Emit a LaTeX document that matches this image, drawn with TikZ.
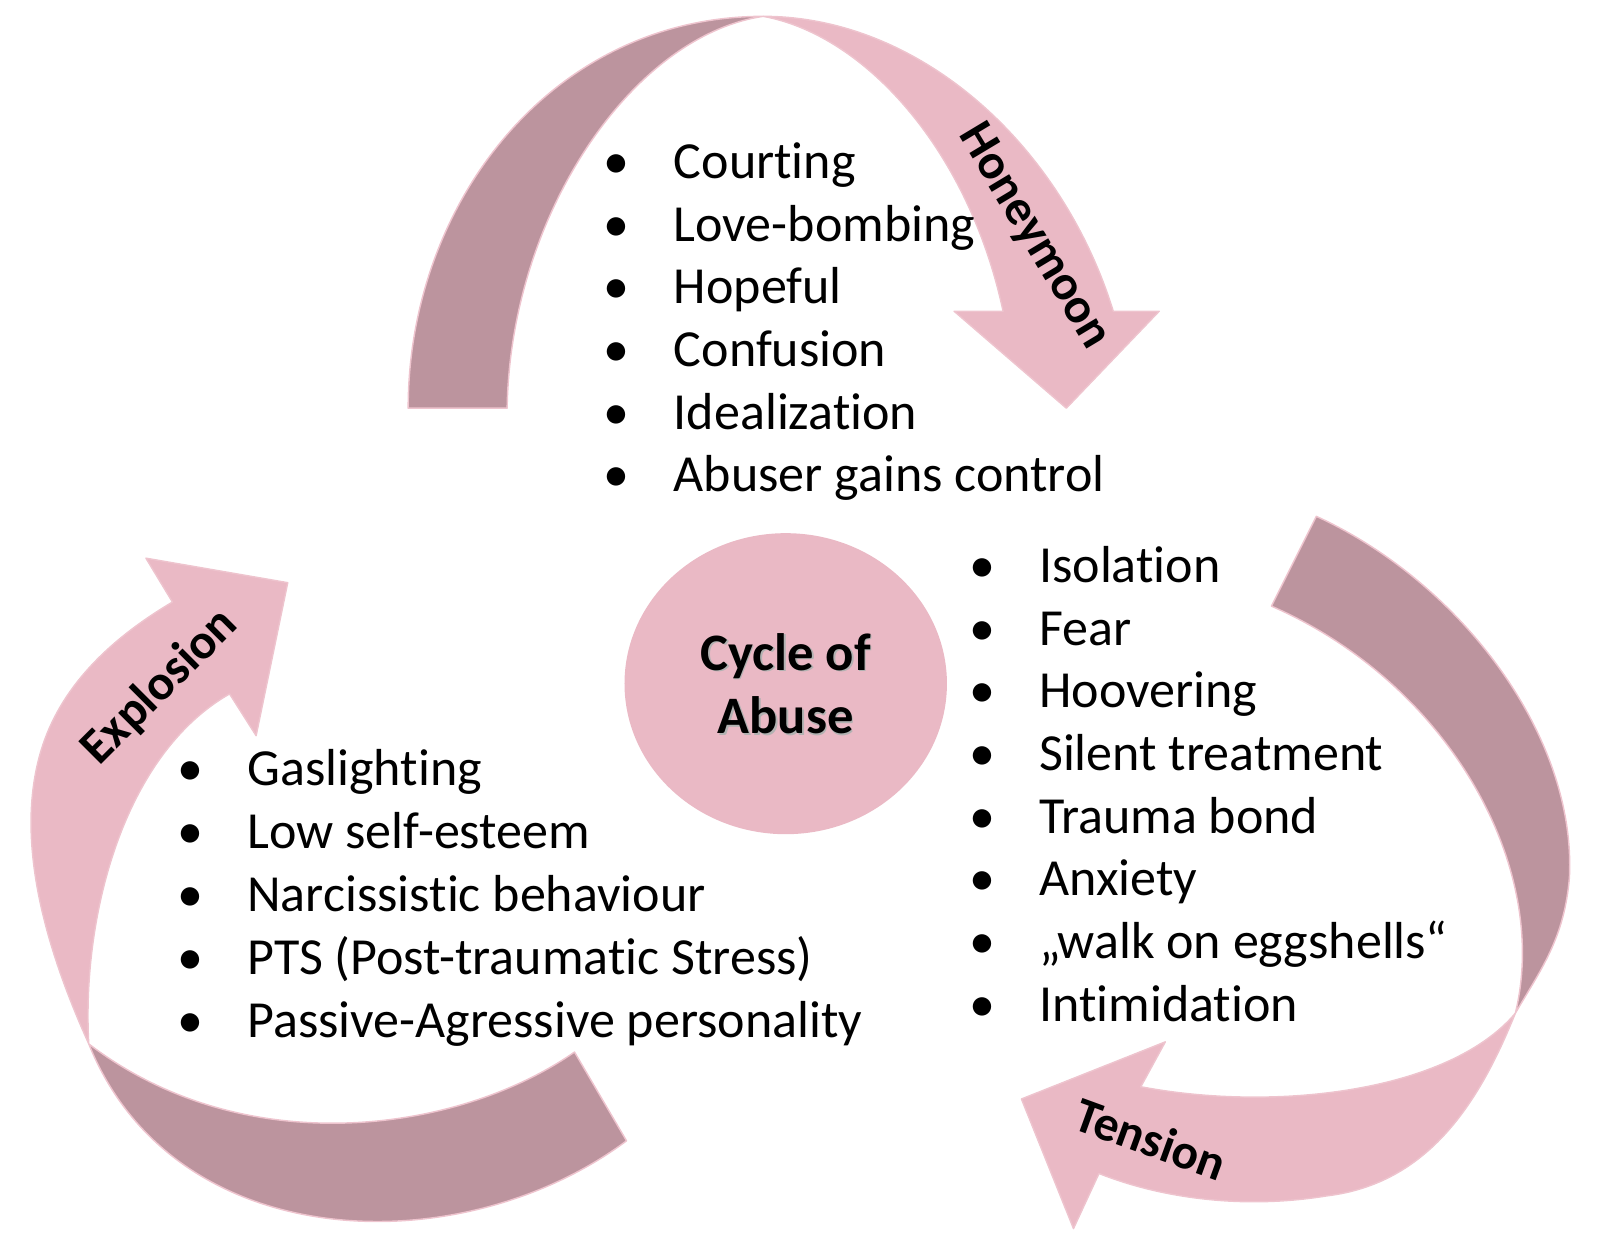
\documentclass[tikz,border=0pt]{standalone}
\usepackage{fontspec}
\setmainfont{Carlito}[Ligatures={NoCommon,NoContextual}]
\usepackage{tikz}
\usetikzlibrary{shapes.geometric}
\definecolor{pinklite}{RGB}{234,185,197}
\definecolor{pinkdark}{RGB}{188,148,158}
\definecolor{pinkedge}{RGB}{238,196,206}

\begin{document}
\begin{tikzpicture}[x=0.5pt, y=-0.5pt,
    lite/.style={fill=pinklite, draw=pinkedge, line width=0.7pt, line join=round},
    shade/.style={fill=pinkdark, draw=pinkedge, line width=0.7pt, line join=round},
    listitem/.style={anchor=base west, inner sep=0pt, font=\fontsize{25.5}{30}\selectfont},
    phase/.style={inner sep=0pt, font=\fontsize{24.3}{29}\selectfont\bfseries},
    title/.style={anchor=base, inner sep=0pt, font=\fontsize{25.8}{31}\selectfont\bfseries}]
  \useasboundingbox (0,0) rectangle (1568,1210);

  % honeymoon (top)
  \draw[shade] (400,400) .. controls (400,200) and (540,16) .. (748,16)
     .. controls (620,35) and (500,210) .. (497,400) -- cycle;
  \draw[lite] (748,16) .. controls (900,16) and (1040,140) .. (1091,305)
     -- (1136,305) -- (1045,400) -- (935,305) -- (983,305)
     .. controls (950,150) and (850,35) .. (748,16) -- cycle;

  % tension (right)
  \draw[shade] (1290,506) .. controls (1430,570) and (1545,720) .. (1538,860)
     .. controls (1533,920) and (1510,950) .. (1485,993)
     .. controls (1520,850) and (1420,670) .. (1246,594) -- cycle;
  \draw[lite] (1485,993) .. controls (1450,1080) and (1400,1160) .. (1300,1172)
     .. controls (1220,1185) and (1140,1175) .. (1077,1150)
     -- (1052,1204) -- (1001,1077) -- (1142,1021) -- (1118,1065)
     .. controls (1250,1090) and (1420,1070) .. (1485,993) -- cycle;

  % explosion (left)
  \draw[shade] (614,1118) .. controls (450,1240) and (170,1230) .. (87,1023)
     .. controls (240,1140) and (450,1110) .. (563,1031) -- cycle;
  \draw[lite] (87,1023) .. controls (45,930) and (12,820) .. (42,730)
     .. controls (62,670) and (110,625) .. (169,590)
     -- (143,547) -- (282,571) -- (251,721) -- (225,680)
     .. controls (120,740) and (80,900) .. (87,1023) -- cycle;

  \node[phase, rotate=-59] (honey) at (1013,232) {Honeymoon};
  \node[phase, rotate=-20] (tens) at (1128,1116) {Tension};
  \node[phase, rotate=45] (expl) at (157,673) {Explosion};

  \node[ellipse, fill=pinklite, minimum width=158pt, minimum height=147.5pt,
        inner sep=0pt] (core) at (770,670) {};
  \node[title, text=black!30] (cycsh) at (771.5,658.5) {Cycle of};
  \node[title] (cyc) at (770,657) {Cycle of};
  \node[title, text=black!30] (abush) at (771.5,720.5) {Abuse};
  \node[title] (abu) at (770,719) {Abuse};

  \foreach \t [count=\i] in {Courting, Love-bombing, Hopeful, Confusion,
      Idealization, Abuser gains control}
    \node[listitem] (hm\i) at (591,{175+61.4*(\i-1)}) {\makebox[34.5pt][l]{•}\t};
  \foreach \t [count=\i] in {Isolation, Fear, Hoovering, Silent treatment,
      Trauma bond, Anxiety, „walk on eggshells“, Intimidation}
    \node[listitem] (tn\i) at (950,{571+61.4*(\i-1)}) {\makebox[34pt][l]{•}\t};
  \foreach \t [count=\i] in {Gaslighting, Low self-esteem, Narcissistic behaviour,
      PTS (Post-traumatic Stress), Passive-Agressive personality}
    \node[listitem] (ex\i) at (174,{770+61.7*(\i-1)}) {\makebox[34pt][l]{•}\t};
\end{tikzpicture}
\end{document}
